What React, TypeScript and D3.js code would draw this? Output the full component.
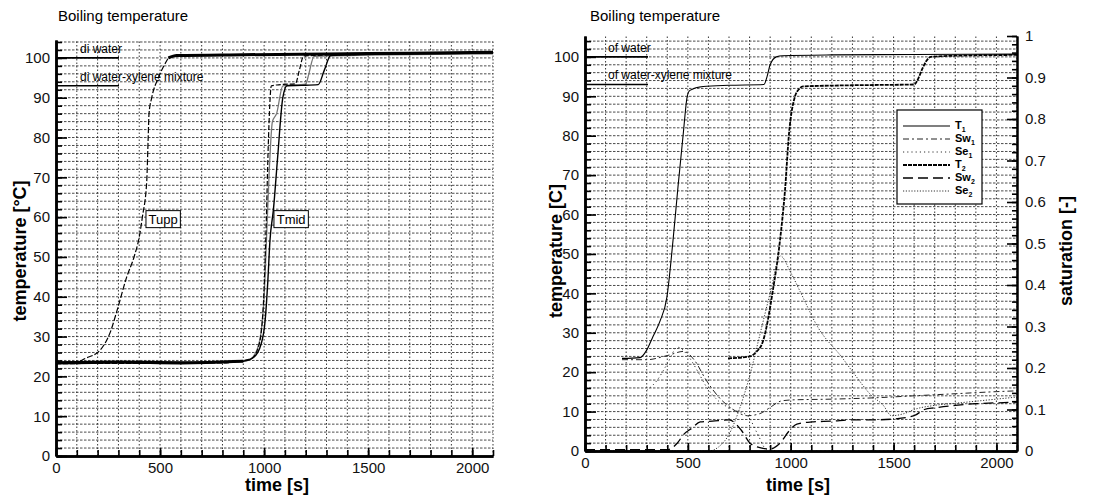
import React, { useEffect, useRef } from 'react';
import * as d3 from 'd3';

const FONT = "'Liberation Sans', Arial, Helvetica, sans-serif";

// left plot - thermocouples (time [s] / temperature [°C])
const uppTime = [0, 100, 140, 212, 260, 298, 340, 375, 400, 415, 436, 443, 447, 460, 492, 540, 580, 900, 1300, 1700, 2100];
const uppTemp = [23.5, 23.6, 24.5, 26.6, 31, 37.4, 45, 50, 55, 60, 69, 80, 86, 90, 95, 100, 100.6, 100.8, 101, 101.2, 101.4];

const mid1Time = [0, 300, 600, 900, 950, 985, 1005, 1018, 1028, 1045, 1065, 1090, 1110, 1180, 1260, 1290, 1320, 1600, 2100];
const mid1Temp = [23.4, 23.6, 23.4, 23.8, 24.8, 28, 34, 44, 54, 62, 75, 90, 93, 93.1, 93.3, 97, 100.6, 101, 101.2];

const mid2Time = [0, 400, 800, 940, 970, 990, 1000, 1010, 1020, 1035, 1080, 1150, 1170, 1190, 1500, 2100];
const mid2Temp = [23.2, 23.3, 23.4, 24.5, 27, 33, 42, 58, 78, 93, 93.3, 93.5, 97, 100.5, 100.9, 101.3];

const mid3Time = [0, 500, 920, 960, 985, 1000, 1012, 1025, 1040, 1060, 1090, 1200, 1215, 1240, 2100];
const mid3Temp = [23.7, 23.5, 24, 26, 31, 40, 55, 72, 84, 86, 93, 93.4, 96, 100.4, 101];

// right plot - temperatures
const t1Time = [180, 267, 300, 330, 365, 398, 428, 452, 478, 497, 510, 574, 700, 870, 885, 900, 930, 960, 1200, 1600, 2100];
const t1Temp = [23.5, 23.7, 25.6, 29, 33, 39, 53.5, 67, 80.7, 90, 91.5, 92.5, 92.8, 93, 95, 98, 100, 100.3, 100.5, 100.6, 100.7];

const t2Time = [695, 802, 830, 866, 914, 948, 972, 992, 1021, 1040, 1060, 1300, 1600, 1620, 1640, 1660, 1680, 1800, 2100];
const t2Temp = [23.5, 24, 25, 28, 41, 53.5, 66, 80.7, 90, 91.8, 92.5, 92.8, 93, 94.5, 97, 99, 100, 100.3, 100.5];

// right plot - saturations
const sw1Time = [180, 300, 400, 480, 530, 590, 650, 720, 790, 850, 900, 950, 1000, 1200, 1400, 1600, 1800, 2000, 2100];
const sw1Sat = [0.22, 0.22, 0.23, 0.24, 0.22, 0.17, 0.13, 0.1, 0.085, 0.09, 0.105, 0.12, 0.123, 0.125, 0.128, 0.133, 0.138, 0.143, 0.145];

const se1Time = [300, 350, 400, 450, 500, 550, 590, 650, 720, 790, 840, 880, 950, 1100, 1400, 1700, 2100];
const se1Sat = [0.146, 0.17, 0.21, 0.25, 0.23, 0.19, 0.155, 0.12, 0.1, 0.085, 0.04, 0.005, 0, 0, 0, 0, 0];

const sw2Time = [0, 400, 450, 480, 520, 560, 620, 700, 760, 800, 850, 900, 950, 990, 1030, 1100, 1200, 1300, 1400, 1500, 1600, 1650, 1700, 1800, 1900, 2000, 2100];
const sw2Sat = [0.003, 0.003, 0.02, 0.04, 0.055, 0.07, 0.072, 0.075, 0.05, 0.02, 0.008, 0.005, 0.02, 0.047, 0.065, 0.07, 0.072, 0.075, 0.075, 0.077, 0.085, 0.1, 0.104, 0.11, 0.114, 0.116, 0.118];

const se2Time = [0, 600, 650, 700, 750, 800, 850, 900, 950, 1000, 1050, 1130, 1250, 1310, 1390, 1450, 1490, 1550, 1600, 1700, 1800, 1900, 2000, 2100];
const se2Sat = [0, 0, 0.01, 0.04, 0.1, 0.18, 0.28, 0.38, 0.47, 0.43, 0.38, 0.3, 0.225, 0.185, 0.135, 0.11, 0.085, 0.09, 0.1, 0.11, 0.115, 0.12, 0.125, 0.13];

// reference boiling points
const BOIL_WATER = 100;
const BOIL_MIX = 93;

const legendNames = [['T', '1'], ['Sw', '1'], ['Se', '1'], ['T', '2'], ['Sw', '2'], ['Se', '2']];

const zip = (t, v) => t.map((d, i) => [d, v[i]]);

function drawGrid(svg, x, y, top) {
    const [x0, x1] = x.range();
    const [y0, y1] = y.range();
    svg.append('g').selectAll('line').data(d3.range(2, top, 2)).join('line')
        .attr('x1', x0).attr('x2', x1)
        .attr('y1', d => y(d)).attr('y2', d => y(d))
        .attr('stroke', '#2a2a2a').attr('stroke-width', 0.85).attr('stroke-dasharray', '2.5,1.5');
    svg.append('g').selectAll('line').data(d3.range(100, 2101, 100)).join('line')
        .attr('x1', d => x(d)).attr('x2', d => x(d))
        .attr('y1', y0).attr('y2', y1)
        .attr('stroke', '#222').attr('stroke-width', 0.9).attr('stroke-dasharray', '1.5,2');
}

function styleAxis(g, width) {
    g.attr('font-family', FONT).attr('font-size', 15);
    g.select('.domain').attr('stroke-width', width);
    g.selectAll('.tick line').attr('stroke-width', 1.6);
    g.selectAll('.tick text').attr('fill', '#111');
}

function drawAxes(svg, x, y) {
    const xMinor = d3.axisBottom(x).tickValues(d3.range(0, 2101, 100)).tickSize(-6).tickSizeOuter(0).tickFormat(() => '');
    const xMajor = d3.axisBottom(x).tickValues(d3.range(0, 2001, 500)).tickSize(-8).tickSizeOuter(0).tickPadding(6)
        .tickFormat(d3.format('d'));
    const yMinor = d3.axisLeft(y).tickValues(d3.range(0, 105, 2)).tickSize(-6).tickSizeOuter(0).tickFormat(() => '');
    const yMajor = d3.axisLeft(y).tickValues(d3.range(0, 101, 10)).tickSize(-11).tickSizeOuter(0).tickPadding(6)
        .tickFormat(d3.format('d'));
    const bottom = y.range()[0];
    const left = x.range()[0];
    styleAxis(svg.append('g').attr('transform', `translate(0,${bottom})`).call(xMinor), 2.5);
    styleAxis(svg.append('g').attr('transform', `translate(0,${bottom})`).call(xMajor), 2.5);
    styleAxis(svg.append('g').attr('transform', `translate(${left},0)`).call(yMinor), 2.5);
    styleAxis(svg.append('g').attr('transform', `translate(${left},0)`).call(yMajor), 2.5);
}

function boilingMarks(svg, x, y, labels, textX) {
    const x0 = x.range()[0];
    [[BOIL_WATER, labels[0]], [BOIL_MIX, labels[1]]].forEach(([v, label]) => {
        svg.append('line')
            .attr('x1', x0).attr('x2', x0 + 63)
            .attr('y1', y(v)).attr('y2', y(v))
            .attr('stroke', '#000').attr('stroke-width', 1.6);
        svg.append('text')
            .attr('x', textX).attr('y', y(v) - 5)
            .attr('font-family', FONT).attr('font-size', 12)
            .text(label);
    });
}

function drawSeries(svg, x, y, pts, style, filter?) {
    const line = d3.line()
        .x(d => x(d[0]))
        .y(d => y(d[1]))
        .curve(d3.curveMonotoneX);
    const data = filter ? pts.filter(filter) : pts;
    svg.append('path')
        .datum(data)
        .attr('d', line)
        .attr('fill', 'none')
        .attr('stroke', style.color || '#000')
        .attr('stroke-width', style.width)
        .attr('stroke-dasharray', style.dash || null);
}

function tagBox(svg, cx, cy, label) {
    const g = svg.append('g');
    g.append('text')
        .attr('x', cx).attr('y', cy + 5)
        .attr('text-anchor', 'middle')
        .attr('font-family', FONT).attr('font-size', 13)
        .text(label);
    const w = label.length * 7.6 + 4;
    g.insert('rect', 'text')
        .attr('x', cx - w / 2).attr('y', cy - 8.5)
        .attr('width', w).attr('height', 17)
        .attr('fill', 'white').attr('stroke', '#000').attr('stroke-width', 1);
}

function axisTitle(svg, x, y, label, rotate) {
    svg.append('text')
        .attr('transform', `translate(${x},${y})${rotate ? ' rotate(-90)' : ''}`)
        .attr('text-anchor', 'middle')
        .attr('font-family', FONT).attr('font-size', 18).attr('font-weight', 'bold')
        .text(label);
}

export default function App() {
    const svgRef = useRef(null);

    useEffect(() => {
        const svg = d3.select(svgRef.current);
        svg.selectAll('*').remove();
        svg.append('rect').attr('width', 1098).attr('height', 495).attr('fill', 'white');

        // ---------- left panel ----------
        const xL = d3.scaleLinear().domain([0, 2100]).range([56, 493]);
        const yL = d3.scaleLinear().domain([0, 104.5]).range([456, 40]);

        drawGrid(svg, xL, yL, 105);
        boilingMarks(svg, xL, yL, ['di water', 'di water-xylene mixture'], 80);

        const upp = zip(uppTime, uppTemp);
        const mid1 = zip(mid1Time, mid1Temp);
        const mid2 = zip(mid2Time, mid2Temp);
        const mid3 = zip(mid3Time, mid3Temp);

        drawSeries(svg, xL, yL, mid3, { width: 1.3, color: '#777' });
        drawSeries(svg, xL, yL, mid2, { width: 1.2, dash: '5,2' });
        drawSeries(svg, xL, yL, mid1, { width: 1.4 });
        drawSeries(svg, xL, yL, mid1, { width: 3.2 }, d => d[0] <= 930);
        drawSeries(svg, xL, yL, upp, { width: 1.2, dash: '6,2' }, d => d[0] <= 560);
        drawSeries(svg, xL, yL, upp, { width: 3 }, d => d[0] >= 540);

        drawAxes(svg, xL, yL);

        tagBox(svg, xL(515), yL(59.5), 'Tupp');
        tagBox(svg, xL(1130), yL(59.5), 'Tmid');

        svg.append('text').attr('x', 58).attr('y', 21)
            .attr('font-family', FONT).attr('font-size', 15)
            .text('Boiling temperature');
        axisTitle(svg, 26, 251, 'temperature [°C]', true);
        axisTitle(svg, 277, 491, 'time [s]', false);

        // ---------- right panel ----------
        const xR = d3.scaleLinear().domain([0, 2100]).range([585, 1017]);
        const yR = d3.scaleLinear().domain([0, 105.3]).range([451, 36]);
        const sR = d3.scaleLinear().domain([0, 1]).range([451, 36]);

        drawGrid(svg, xR, yR, 105.3);
        boilingMarks(svg, xR, yR, ['of water', 'of water-xylene mixture'], 608);

        const series = [
            { pts: zip(t1Time, t1Temp), y: yR, style: { width: 1.1 } },
            { pts: zip(sw1Time, sw1Sat), y: sR, style: { width: 1, dash: '6,3,2,3', color: '#222' } },
            { pts: zip(se1Time, se1Sat), y: sR, style: { width: 1, dash: '1.2,3', color: '#333' } },
            { pts: zip(t2Time, t2Temp), y: yR, style: { width: 1.8, dash: '4,1' } },
            { pts: zip(sw2Time, sw2Sat), y: sR, style: { width: 1.3, dash: '10,5' } },
            { pts: zip(se2Time, se2Sat), y: sR, style: { width: 1, dash: '1.2,1.6', color: '#333' } },
        ];
        series.forEach(s => drawSeries(svg, xR, s.y, s.pts, s.style));

        drawAxes(svg, xR, yR);

        const sMinor = d3.axisRight(sR).tickValues(d3.range(0, 1.001, 0.02)).tickSize(-5).tickSizeOuter(0).tickFormat(() => '');
        const sMajor = d3.axisRight(sR).tickValues(d3.range(0, 1.001, 0.1)).tickSize(-10).tickSizeOuter(0).tickPadding(8)
            .tickFormat(d => (d < 0.001 ? '0' : d > 0.999 ? '1' : d3.format('.1f')(d)));
        styleAxis(svg.append('g').attr('transform', 'translate(1017,0)').call(sMinor), 2);
        styleAxis(svg.append('g').attr('transform', 'translate(1017,0)').call(sMajor), 2);

        // legend
        const lg = svg.append('g');
        lg.append('rect').attr('x', 897).attr('y', 110).attr('width', 85).attr('height', 94)
            .attr('fill', 'white').attr('stroke', '#000').attr('stroke-width', 1.2);
        series.forEach((s, i) => {
            const ly = 126 + i * 13;
            lg.append('line').attr('x1', 903).attr('x2', 950).attr('y1', ly).attr('y2', ly)
                .attr('stroke', s.style.color || '#000')
                .attr('stroke-width', s.style.width)
                .attr('stroke-dasharray', s.style.dash || null);
            const t = lg.append('text').attr('x', 955).attr('y', ly + 3)
                .attr('font-family', FONT).attr('font-size', 11).attr('font-weight', 'bold');
            t.append('tspan').text(legendNames[i][0]);
            t.append('tspan').attr('font-size', 7).attr('dy', 3).text(legendNames[i][1]);
        });

        svg.append('text').attr('x', 590).attr('y', 21)
            .attr('font-family', FONT).attr('font-size', 15)
            .text('Boiling temperature');
        axisTitle(svg, 562, 251, 'temperature [C]', true);
        axisTitle(svg, 798, 491, 'time [s]', false);
        axisTitle(svg, 1072, 251, 'saturation [-]', true);
    }, []);

    return (
        <svg
            ref={svgRef}
            width={1098}
            height={495}
            style={{ position: 'absolute', left: 0, top: 0, display: 'block' }}
        />
    );
}
